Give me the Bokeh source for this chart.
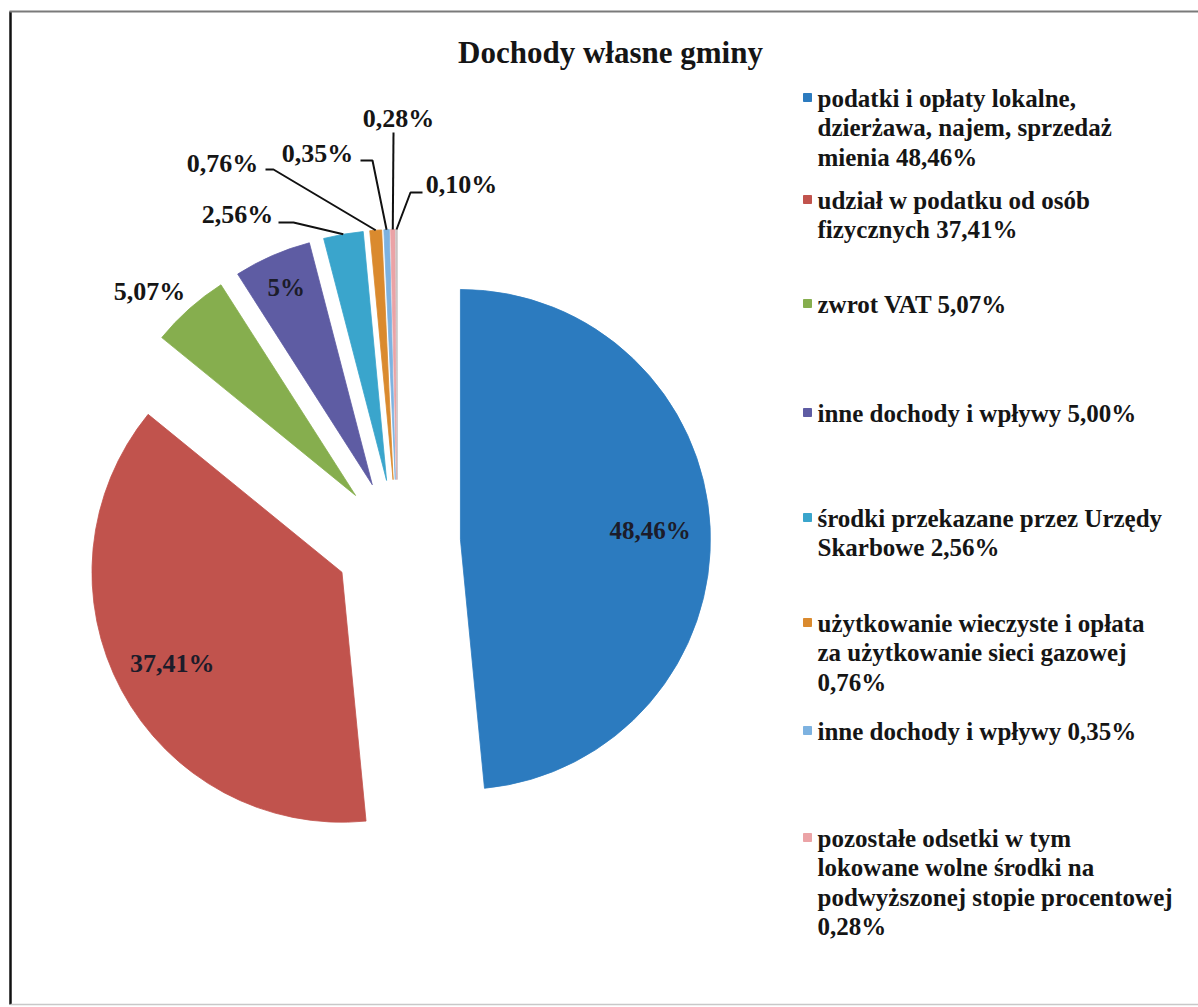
import math
import textwrap
import numpy as np
from bokeh.plotting import figure
from bokeh.models import Range1d, ColumnDataSource
from bokeh.core.properties import value
from bokeh.embed import file_html
from bokeh.resources import INLINE

# ---------------- data ----------------
title = "Dochody własne gminy"
categories = [
    "podatki i opłaty lokalne, dzierżawa, najem, sprzedaż mienia",
    "udział w podatku od osób fizycznych",
    "zwrot VAT",
    "inne dochody i wpływy",
    "środki przekazane przez Urzędy Skarbowe",
    "użytkowanie wieczyste i opłata za użytkowanie sieci gazowej",
    "inne dochody i wpływy",
    "pozostałe odsetki w tym lokowane wolne środki na podwyższonej stopie procentowej",
    "",
]
values = [48.46, 37.41, 5.07, 5.00, 2.56, 0.76, 0.35, 0.28, 0.10]
slice_labels = ["48,46%", "37,41%", "5,07%", "5%", "2,56%", "0,76%", "0,35%", "0,28%", "0,10%"]
legend_values = ["48,46%", "37,41%", "5,07%", "5,00%", "2,56%", "0,76%", "0,35%", "0,28%"]
colors = ["#2C7BBF", "#C1534D", "#86AE4E", "#5E5CA3", "#3AA5CC",
          "#DA8A2E", "#7DB2E0", "#EBA3A6", "#C9C3C3"]

# ---------------- layout ----------------
W, H = 1198, 1007
FONT = value("Liberation Serif")
TXT = "#151515"


def P(X, Y):
    """reference pixel -> data coords"""
    return X, H - Y


p = figure(width=W, height=H, x_range=Range1d(0, W), y_range=Range1d(0, H),
           x_axis_type=None, y_axis_type=None, output_backend="svg",
           toolbar_location=None, min_border=0)
p.grid.visible = False
p.outline_line_color = None
p.background_fill_color = "white"
p.border_fill_color = "white"

# frame of the scanned chart
fx0, fy0 = P(10, 11)
fx1, fy1 = P(W, 1004)
p.line(x=[fx0, fx0], y=[fy0, fy1], line_color="#111111", line_width=2.5)
p.line(x=[fx0 - 1, fx1], y=[fy0, fy0], line_color="#7a7a7a", line_width=2)
p.line(x=[fx0, fx1], y=[fy1, fy1], line_color="#c8c8c8", line_width=1.5)

# ---------------- pie ----------------
R = 250.0
E = 63.0
cx, cy = P(397, 542)
total = sum(values)
cum = np.concatenate([[0.0], np.cumsum(values)])
th0 = 2 * math.pi * cum[:-1] / total
th1 = 2 * math.pi * cum[1:] / total
thm = (th0 + th1) / 2
xs = cx + E * np.sin(thm)
ys = cy + E * np.cos(thm)
src = ColumnDataSource(dict(x=xs, y=ys, start=math.pi / 2 - th0, end=math.pi / 2 - th1,
                            color=colors))
p.wedge(x="x", y="y", radius=R, start_angle="start", end_angle="end", direction="clock",
        fill_color="color", line_color="color", line_width=0.8, source=src)

# inside labels
inside = {0: (0.76, "25px"), 1: (0.77, "26px"), 3: (0.86, "25px")}
for i, (f, size) in inside.items():
    lx = xs[i] + f * R * math.sin(thm[i])
    ly = ys[i] + f * R * math.cos(thm[i])
    p.text(x=[lx], y=[ly], text=[slice_labels[i]], text_font=FONT,
           text_font_style="bold", text_font_size=size, text_align="center",
           text_baseline="middle", text_color="#1c1c2a")

# outside labels (position of label centre and leader elbows, reference pixels)
outside_pos = {2: (149, 291), 4: (237, 214), 5: (222, 163), 6: (317, 153),
               7: (398, 118), 8: (461, 184)}
elbows = {4: [(278, 222), (293, 222)], 5: [(265, 169), (273, 169)],
          6: [(360, 160), (372, 160)], 7: [(393, 132)], 8: [(422, 192), (410, 192)]}
for i, (X, Y) in outside_pos.items():
    lx, ly = P(X, Y)
    p.text(x=[lx], y=[ly], text=[slice_labels[i]], text_font=FONT, text_font_style="bold",
           text_font_size="26px", text_align="center", text_baseline="middle",
           text_color=TXT)
    if i in elbows:
        pts = [P(a, b) for a, b in elbows[i]]
        ex = xs[i] + R * math.sin(thm[i])
        ey = ys[i] + R * math.cos(thm[i])
        lxs = [q[0] for q in pts] + [ex]
        lys = [q[1] for q in pts] + [ey]
        p.line(x=lxs, y=lys, line_color="#111111", line_width=2)

# ---------------- title ----------------
tx, ty = P(610, 52)
p.text(x=[tx], y=[ty], text=[title], text_font=FONT, text_font_style="bold",
       text_font_size="31px", text_align="center", text_baseline="middle",
       text_color=TXT)

# ---------------- legend ----------------
entry_y = [97, 199, 303, 412, 517, 622, 730, 837]
LINE = 29.3
sq_x = 807
txt_x = 817
for k in range(len(legend_values)):
    lines = textwrap.wrap(categories[k] + " " + legend_values[k], 31)
    sx, sy = P(sq_x, entry_y[k])
    p.rect(x=[sx], y=[sy], width=8, height=8, fill_color=colors[k], line_color=colors[k])
    for j, ln in enumerate(lines):
        lx, ly = P(txt_x, entry_y[k] + 1 + j * LINE)
        p.text(x=[lx], y=[ly], text=[ln], text_font=FONT, text_font_style="bold",
               text_font_size="25px", text_align="left", text_baseline="middle",
               text_color=TXT)

open("out.html", "w").write(file_html(p, INLINE))
